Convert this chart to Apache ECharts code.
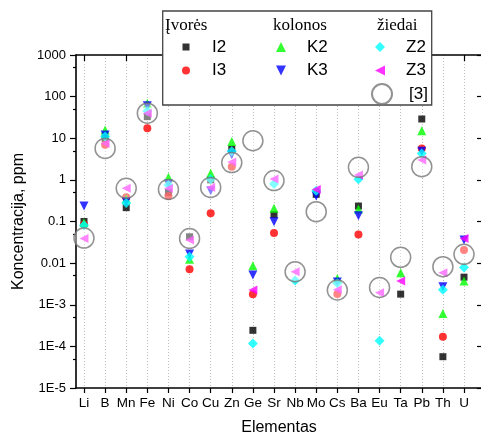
<!DOCTYPE html>
<html>
<head>
<meta charset="utf-8">
<script src="https://cdn.jsdelivr.net/npm/echarts@6/dist/echarts.min.js"></script>
<style>
html,body{margin:0;padding:0;background:#fff;}
#chart{width:481px;height:436px;}
</style>
</head>
<body>
<div id="chart"></div>
<script>
const categories = ['Li','B','Mn','Fe','Ni','Co','Cu','Zn','Ge','Sr','Nb','Mo','Cs','Ba','Eu','Ta','Pb','Th','U'];
const I2 = [0.10, 10, 0.215, 33, 0.5, 0.043, 1.0, 5.5, 0.000243, 0.146, null, 0.45, null, 0.235, null, 0.0018, 29, 0.0000565, 0.0046];
const I3 = [0.085, 7, 0.38, 17.3, 0.41, 0.0071, 0.157, 2.07, 0.00178, 0.053, null, null, 0.0018, 0.049, null, null, 5.7, 0.00017, 0.0207];
const K2 = [0.093, 15.8, 0.35, 69, 1.15, 0.0124, 1.44, 8.3, 0.0087, 0.207, null, null, 0.0043, 0.2, null, 0.0059, 15.2, 0.00062, 0.0037];
const K3 = [0.235, 12, 0.3, 60, 0.8, 0.0166, 0.55, 4.0, 0.0052, 0.099, null, 0.41, 0.0035, 0.138, null, null, 4.9, 0.0027, 0.036];
const Z2 = [0.081, 11, 0.28, 45, 0.75, 0.0143, 1.03, 4.9, 0.000118, 0.8, 0.0038, 0.55, 0.0033, 1.03, 0.000137, null, 4.3, 0.0023, 0.0079];
const Z3 = [0.039, 7.5, 0.63, 40, 0.62, 0.036, 0.66, 2.7, 0.00226, 1.05, 0.0062, 0.59, 0.0023, 1.31, 0.00195, 0.0037, 3.0, 0.0059, 0.039];
const REF3 = [0.04, 5.7, 0.63, 40, 0.59, 0.039, 0.66, 2.6, 8.7, 0.96, 0.0062, 0.172, 0.00226, 2.0, 0.0026, 0.0138, 2.07, 0.0082, 0.0163];
const yTickValues = [1e-5, 1e-4, 1e-3, 0.01, 0.1, 1, 10, 100, 1000];
const yTickLabels = ['1E-5', '1E-4', '1E-3', '0.01', '0.1', '1', '10', '100', '1000'];
const minorTickValues = [5e-5, 5e-4, 5e-3, 0.05, 0.5, 5, 50, 500];
const groupTitles = ['Įvorės', 'kolonos', 'žiedai'];

const SANS = 'Liberation Sans, Arial, sans-serif';
const SERIF = 'Liberation Serif, Times New Roman, serif';
const chart = echarts.init(document.getElementById('chart'), null, {renderer: 'canvas'});

function yLabel(v) {
  let best = 0, bd = Infinity;
  yTickValues.forEach((t, i) => {
    const d = Math.abs(Math.log10(v) - Math.log10(t));
    if (d < bd) { bd = d; best = i; }
  });
  return yTickLabels[best];
}

// icon centred at cx, text starting at tx
function legendItem(name, cx, cy, size, tx, icon) {
  const left = cx - size / 2;
  const pad = tx - left - size - 5;
  const lg = {
    data: [name], left: left, top: cy - 10, padding: 0,
    itemWidth: size, itemHeight: size, selectedMode: false, z: 60,
    textStyle: {fontSize: 17, lineHeight: 20, color: '#000', fontFamily: SANS, padding: [0, 0, 0, pad]}
  };
  if (icon) lg.icon = icon;
  return lg;
}

const option = {
  animation: false,
  backgroundColor: '#fff',
  grid: [
    {left: 76, top: 55, width: 406, height: 333, outerBoundsMode: 'none', containLabel: false},
    {left: 84, top: 55, width: 380, height: 333, outerBoundsMode: 'none', containLabel: false}
  ],
  xAxis: [
    {type: 'value', gridIndex: 0, position: 'bottom', min: 0, max: 1,
     axisLine: {show: true, onZero: false, lineStyle: {color: '#000', width: 1.6}},
     axisTick: {show: false}, axisLabel: {show: false}, splitLine: {show: false},
     name: 'Elementas', nameLocation: 'middle', nameGap: 32,
     nameTextStyle: {fontSize: 16, color: '#000', fontFamily: SANS}},
    {type: 'value', gridIndex: 0, position: 'top', min: 0, max: 1,
     axisLine: {show: true, onZero: false, lineStyle: {color: '#000', width: 1.6}},
     axisTick: {show: false}, axisLabel: {show: false}, splitLine: {show: false}},
    {type: 'category', gridIndex: 1, position: 'bottom', data: categories, boundaryGap: false,
     axisLine: {show: false, onZero: false},
     axisTick: {show: true, length: 5, lineStyle: {color: '#000', width: 1.2}},
     axisLabel: {interval: 0, fontSize: 13.5, color: '#000', fontFamily: SANS, margin: 8},
     splitLine: {show: true, lineStyle: {color: '#bdbdbd', type: [1, 2], width: 1}}},
    {type: 'category', gridIndex: 1, position: 'top', data: categories, boundaryGap: false,
     axisLine: {show: false, onZero: false},
     axisTick: {show: true, inside: true, length: 6, lineStyle: {color: '#000', width: 1.2}},
     axisLabel: {show: false}, splitLine: {show: false}}
  ],
  yAxis: [
    {type: 'log', gridIndex: 0, position: 'left', logBase: 10, min: 1e-5, max: 1000,
     axisLine: {show: true, onZero: false, lineStyle: {color: '#000', width: 1.6}},
     axisTick: {show: true, length: 6, lineStyle: {color: '#000', width: 1.2}},
     axisLabel: {formatter: yLabel, fontSize: 13, color: '#000', fontFamily: SANS, margin: 10},
     splitLine: {show: false},
     name: 'Koncentracija, ppm', nameLocation: 'middle', nameGap: 34,
     nameTextStyle: {fontSize: 16, color: '#000', fontFamily: SANS}},
    {type: 'log', gridIndex: 0, position: 'right', logBase: 10, min: 1e-5, max: 1000,
     axisLine: {show: true, onZero: false, lineStyle: {color: '#000', width: 1.6}},
     axisTick: {show: true, inside: true, length: 5, lineStyle: {color: '#000', width: 1.2}},
     axisLabel: {show: false}, splitLine: {show: false}},
    {type: 'value', gridIndex: 0, position: 'left', min: -5, max: 3,
     axisLine: {show: false, onZero: false},
     axisTick: {show: true, length: 3, customValues: minorTickValues.map(v => Math.log10(v)),
                lineStyle: {color: '#000', width: 1.2}},
     axisLabel: {show: false}, splitLine: {show: false}},
    {type: 'log', gridIndex: 1, logBase: 10, min: 1e-5, max: 1000, show: false}
  ],
  graphic: [
    {type: 'rect', z: 50, shape: {x: 162.7, y: 11, width: 269, height: 94},
     style: {fill: '#fff', stroke: '#444', lineWidth: 1.3}},
    {type: 'text', z: 60, x: 165, y: 26, style: {text: groupTitles[0], font: '17px ' + SERIF, fill: '#000', textVerticalAlign: 'middle'}},
    {type: 'text', z: 60, x: 273, y: 26, style: {text: groupTitles[1], font: '17px ' + SERIF, fill: '#000', textVerticalAlign: 'middle'}},
    {type: 'text', z: 60, x: 377, y: 26, style: {text: groupTitles[2], font: '17px ' + SERIF, fill: '#000', textVerticalAlign: 'middle'}}
  ],
  legend: [
    legendItem('I2', 186, 47, 7, 212),
    legendItem('I3', 186, 70.5, 8, 212),
    legendItem('K2', 281, 47, 10, 307),
    legendItem('K3', 281, 70.5, 10, 307, 'path://M0,0 L10,0 L5,10 Z'),
    legendItem('Z2', 380, 47, 10, 406),
    legendItem('Z3', 380, 70.5, 10, 406, 'path://M10,0 L10,10 L0,5 Z'),
    legendItem('[3]', 381, 93, 20, 408)
  ],
  series: [
    {name: 'I2', type: 'scatter', xAxisIndex: 2, yAxisIndex: 3, data: I2, symbol: 'rect', symbolSize: 7, itemStyle: {color: '#000000'}},
    {name: 'I3', type: 'scatter', xAxisIndex: 2, yAxisIndex: 3, data: I3, symbol: 'circle', symbolSize: 8, itemStyle: {color: '#ff0000'}},
    {name: 'K2', type: 'scatter', xAxisIndex: 2, yAxisIndex: 3, data: K2, symbol: 'triangle', symbolSize: 9, itemStyle: {color: '#00ff00'}},
    {name: 'K3', type: 'scatter', xAxisIndex: 2, yAxisIndex: 3, data: K3, symbol: 'triangle', symbolRotate: 180, symbolSize: 9, itemStyle: {color: '#0000ff'}},
    {name: 'Z2', type: 'scatter', xAxisIndex: 2, yAxisIndex: 3, data: Z2, symbol: 'diamond', symbolSize: 10, itemStyle: {color: '#00ffff'}},
    {name: 'Z3', type: 'scatter', xAxisIndex: 2, yAxisIndex: 3, data: Z3, symbol: 'triangle', symbolRotate: 90, symbolSize: 9, itemStyle: {color: '#ff00ff'}},
    {name: '[3]', type: 'scatter', xAxisIndex: 2, yAxisIndex: 3, data: REF3, symbol: 'circle', symbolSize: 20,
     itemStyle: {color: 'rgba(255,255,255,0.5)', borderColor: '#777', borderWidth: 1.5}}
  ]
};
chart.setOption(option);
</script>
</body>
</html>
